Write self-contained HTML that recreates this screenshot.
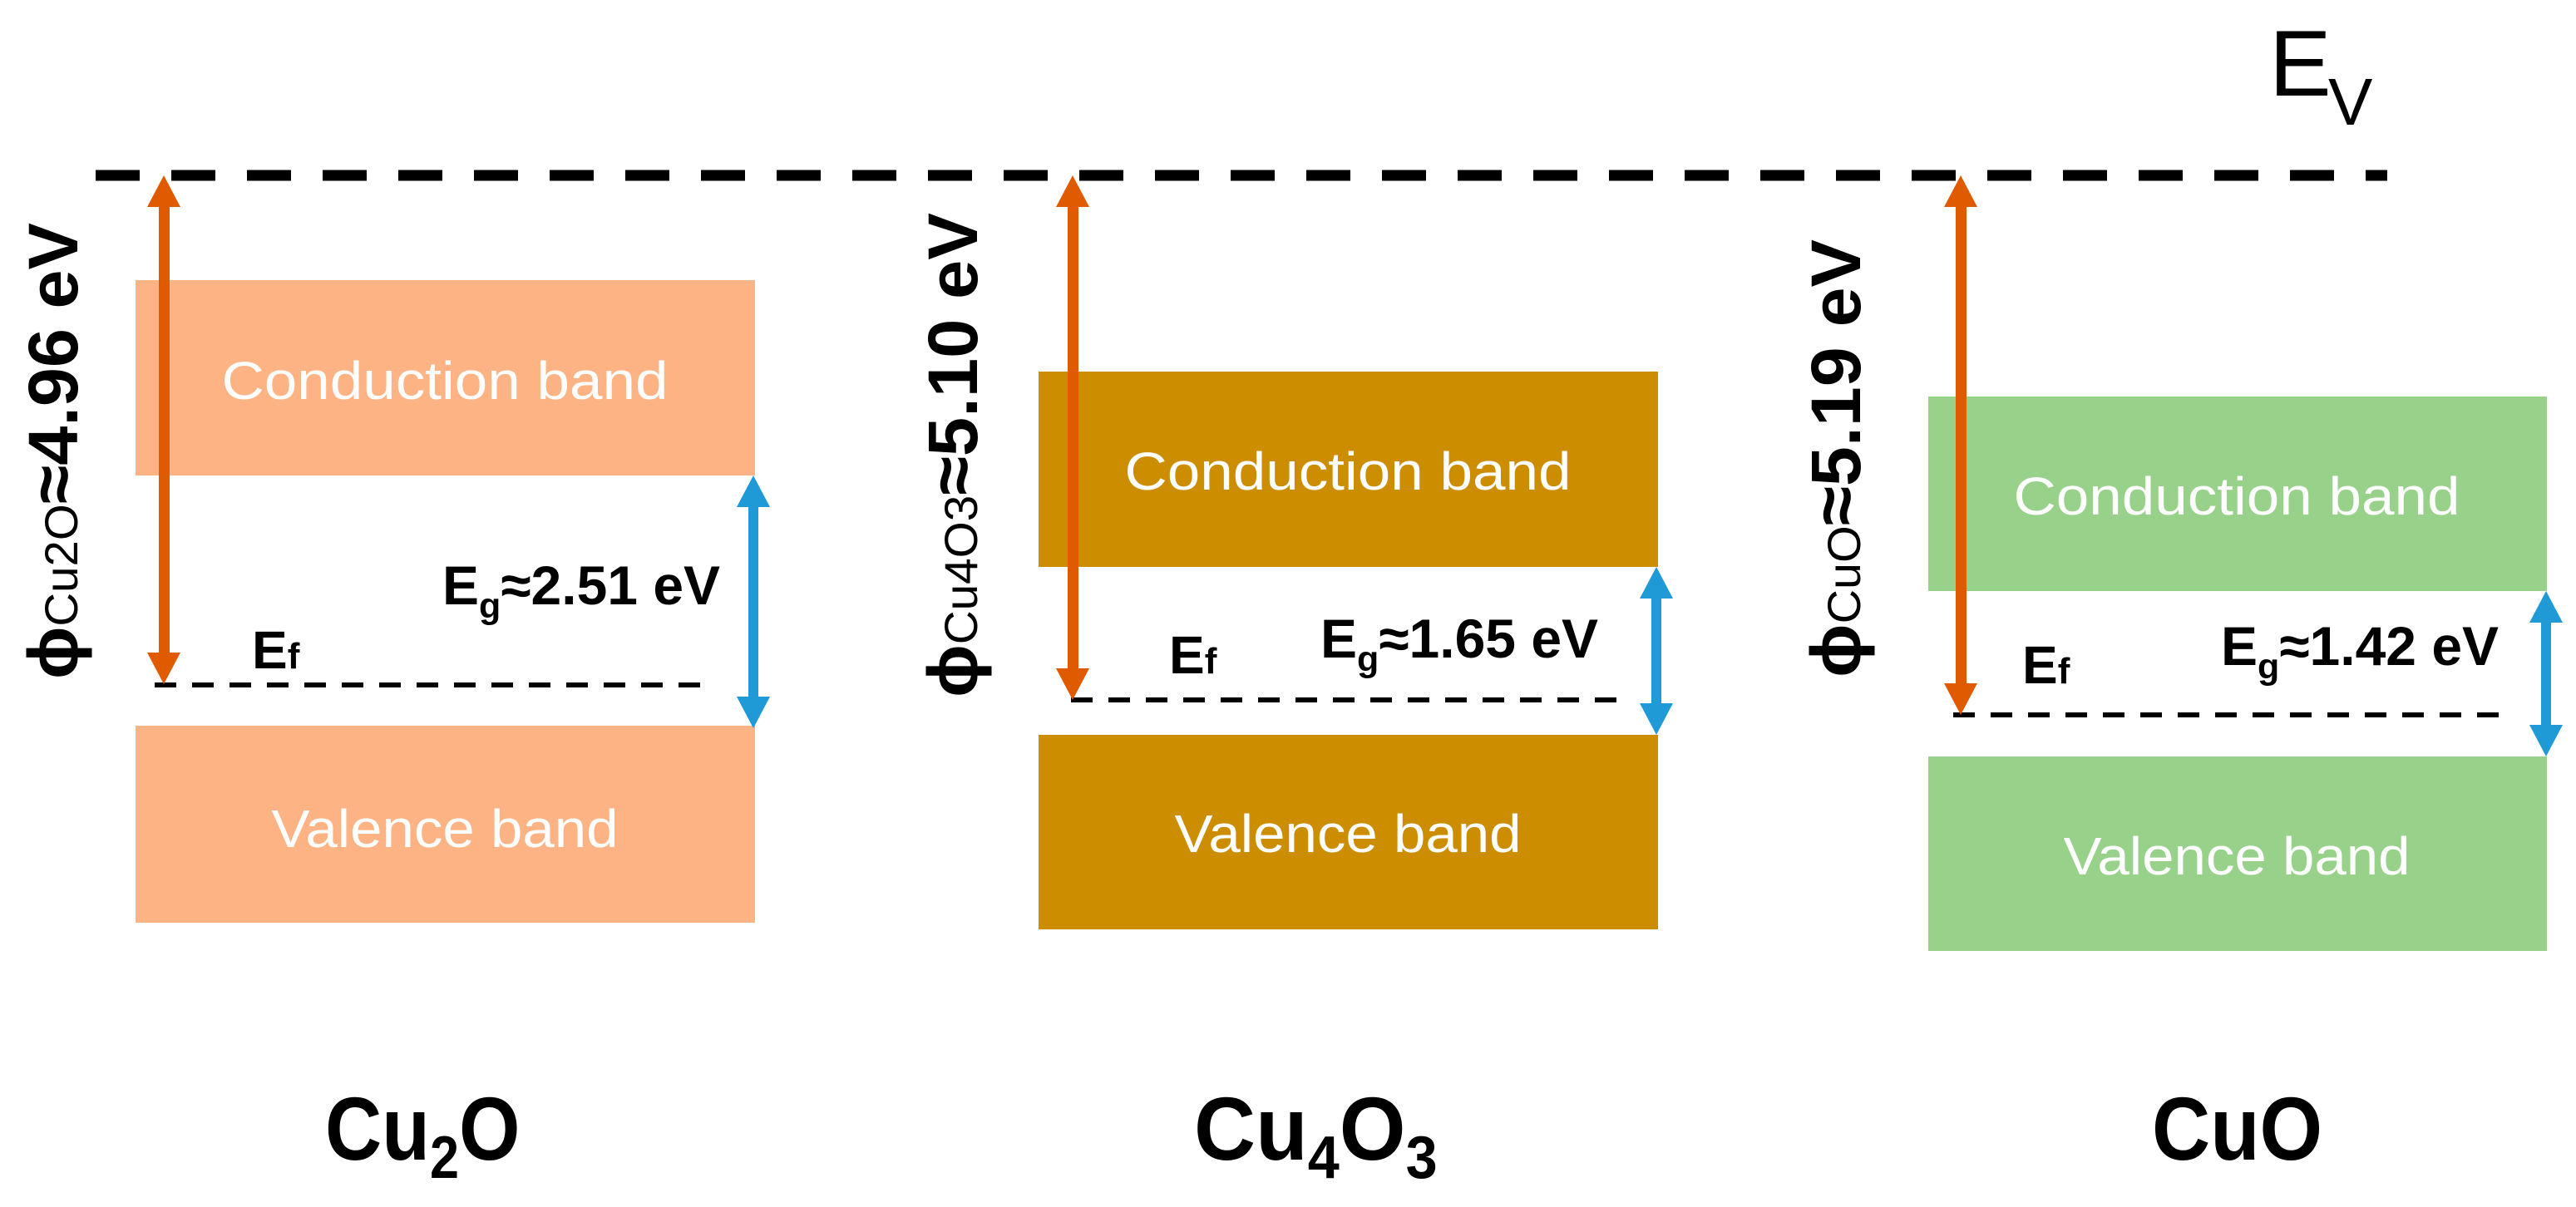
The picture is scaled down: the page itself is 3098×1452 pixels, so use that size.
<!DOCTYPE html>
<html><head><meta charset="utf-8"><style>
html,body{margin:0;padding:0;background:#fff;}
svg{display:block;}
text{font-family:"Liberation Sans",sans-serif;}
</style></head><body>
<svg width="3098" height="1452" viewBox="0 0 3098 1452" xmlns="http://www.w3.org/2000/svg">
<rect x="163" y="337" width="745" height="235" fill="#FDB384"/>
<rect x="163" y="873" width="745" height="237" fill="#FDB384"/>
<rect x="1249" y="447" width="745" height="235" fill="#CC8E00"/>
<rect x="1249" y="884" width="745" height="234" fill="#CC8E00"/>
<rect x="2319" y="477" width="744" height="234" fill="#98D28A"/>
<rect x="2319" y="910" width="744" height="234" fill="#98D28A"/>

<g fill="#fff" font-size="64">
<text x="535" y="480" text-anchor="middle" textLength="537" lengthAdjust="spacingAndGlyphs">Conduction band</text>
<text x="535" y="1019" text-anchor="middle" textLength="417" lengthAdjust="spacingAndGlyphs">Valence band</text>
<text x="1621" y="589" text-anchor="middle" textLength="537" lengthAdjust="spacingAndGlyphs">Conduction band</text>
<text x="1621" y="1025" text-anchor="middle" textLength="417" lengthAdjust="spacingAndGlyphs">Valence band</text>
<text x="2690" y="619" text-anchor="middle" textLength="537" lengthAdjust="spacingAndGlyphs">Conduction band</text>
<text x="2690" y="1052" text-anchor="middle" textLength="417" lengthAdjust="spacingAndGlyphs">Valence band</text>
</g>

<line x1="115" y1="211" x2="2871" y2="211" stroke="#000" stroke-width="13" stroke-dasharray="53 38"/>
<text x="2729" y="115" font-size="112" fill="#000">E</text>
<text x="2800" y="150" font-size="80" fill="#000">V</text>

<g stroke="#000" stroke-width="6" stroke-dasharray="26 19">
<line x1="186" y1="824" x2="849" y2="824"/>
<line x1="1288" y1="842" x2="1954" y2="842"/>
<line x1="2349" y1="860" x2="3012" y2="860"/>
</g>

<g fill="#E05A00" stroke="none">
<rect x="191" y="245" width="13" height="545"/>
<polygon points="197,211 177,249 217,249"/>
<polygon points="197,823 177,785 217,785"/>
<rect x="1284" y="245" width="13" height="562"/>
<polygon points="1290,211 1270,249 1310,249"/>
<polygon points="1290,842 1270,804 1310,804"/>
<rect x="2352" y="245" width="13" height="580"/>
<polygon points="2358,211 2338,249 2378,249"/>
<polygon points="2358,860 2338,822 2378,822"/>
</g>

<g fill="#1F9AD6">
<rect x="900" y="605" width="12" height="238"/>
<polygon points="906,572 886,610 926,610"/>
<polygon points="906,876 886,838 926,838"/>
<rect x="1986" y="715" width="12" height="136"/>
<polygon points="1992,682 1972,720 2012,720"/>
<polygon points="1992,884 1972,846 2012,846"/>
<rect x="3056" y="744" width="12" height="133"/>
<polygon points="3062,711 3042,749 3082,749"/>
<polygon points="3062,910 3042,872 3082,872"/>
</g>

<g font-weight="bold" fill="#000">
<text x="303" y="804" font-size="64">E<tspan font-size="44">f</tspan></text>
<text x="1406" y="810" font-size="64">E<tspan font-size="44">f</tspan></text>
<text x="2432" y="822" font-size="64">E<tspan font-size="44">f</tspan></text>
</g>

<g font-weight="bold" fill="#000" font-size="66">
<text x="532" y="727">E<tspan font-size="43" dy="16">g</tspan><tspan dy="-16">≈2.51 eV</tspan></text>
<text x="1588" y="791">E<tspan font-size="43" dy="16">g</tspan><tspan dy="-16">≈1.65 eV</tspan></text>
<text x="2671" y="800">E<tspan font-size="43" dy="16">g</tspan><tspan dy="-16">≈1.42 eV</tspan></text>
</g>

<g font-weight="bold" fill="#000">
<text transform="translate(93,817) rotate(-90)" font-size="84" textLength="549" lengthAdjust="spacingAndGlyphs">ϕ<tspan font-size="56" font-weight="normal">Cu2O</tspan>≈4.96 eV</text>
<text transform="translate(1175,839) rotate(-90)" font-size="84" textLength="583" lengthAdjust="spacingAndGlyphs">ϕ<tspan font-size="56" font-weight="normal">Cu4O3</tspan>≈5.10 eV</text>
<text transform="translate(2237,815) rotate(-90)" font-size="84" textLength="527" lengthAdjust="spacingAndGlyphs">ϕ<tspan font-size="56" font-weight="normal">CuO</tspan>≈5.19 eV</text>
</g>

<g font-weight="bold" fill="#000" font-size="108">
<text transform="translate(391,1395) scale(0.875,1)">Cu<tspan font-size="72" dy="22">2</tspan><tspan dy="-22">O</tspan></text>
<text transform="translate(1436,1395) scale(0.95,1)">Cu<tspan font-size="72" dy="22">4</tspan><tspan dy="-22">O</tspan><tspan font-size="72" dy="22">3</tspan></text>
<text transform="translate(2588,1395) scale(0.9,1)">CuO</text>
</g>
</svg>
</body></html>
